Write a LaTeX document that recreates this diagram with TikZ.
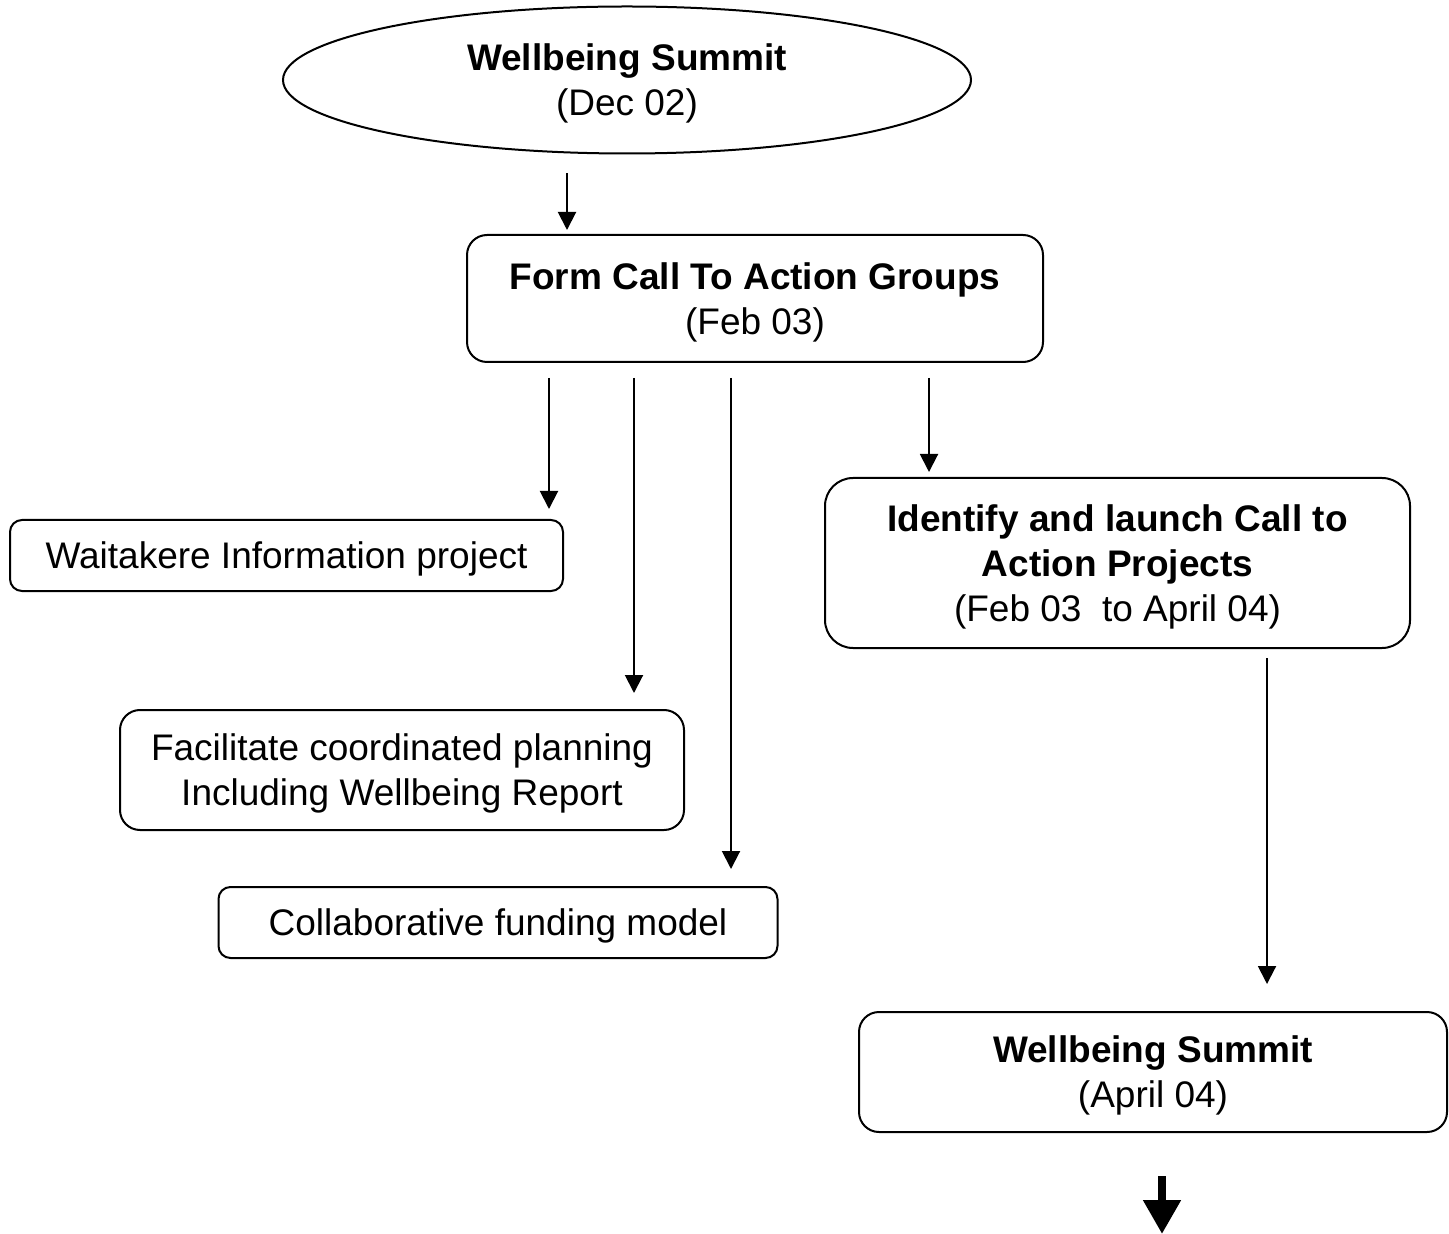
\documentclass[tikz,border=0pt]{standalone}
\usepackage{fontspec}
\setmainfont{Liberation Sans}
\usetikzlibrary{shapes,arrows.meta}
\tikzstyle{block} = [rectangle, draw, line width=1pt, align=center,
    inner sep=0pt, text depth=0pt, rounded corners=10pt]
\tikzstyle{summitshape} = [ellipse, draw, line width=1pt, align=center, inner sep=0pt, text depth=0pt]
\tikzstyle{line} = [draw, line width=1pt, -{Triangle[length=9pt,width=9pt]}]
\tikzstyle{bigline} = [draw, line width=4pt, -{Triangle[length=17pt,width=18pt]}]

\begin{document}
\begin{tikzpicture}[node distance = 2cm, font=\fontsize{18.5pt}{22.5pt}\selectfont]
    \useasboundingbox (0,0) rectangle (724.5pt,-617pt);
    % Place nodes
    \node [summitshape, minimum width=344pt, minimum height=73.5pt] (summit) at (313.5pt,-40pt) {\textbf{Wellbeing Summit}\\(Dec 02)};
    \node [block, below of=summit, node distance=109.25pt, xshift=64pt, minimum width=288pt, minimum height=63.5pt] (groups) {\textbf{Form Call To Action Groups}\\(Feb 03)};
    \node [block, below of=groups, node distance=128.5pt, xshift=-234.25pt, minimum width=276.5pt, minimum height=35.5pt, rounded corners=6pt] (info) {Waitakere Information project};
    \node [block, below of=info, node distance=107.25pt, xshift=57.75pt, minimum width=282pt, minimum height=60pt] (plan) {Facilitate coordinated planning\\Including Wellbeing Report};
    \node [block, below of=plan, node distance=76.25pt, xshift=48pt, minimum width=279.5pt, minimum height=35.5pt, rounded corners=6pt] (funding) {Collaborative funding model};
    \node [block, below of=groups, node distance=132.25pt, xshift=181.25pt, minimum width=292.5pt, minimum height=85pt, rounded corners=14pt] (projects) {\textbf{Identify and launch Call to}\\\textbf{Action Projects}\\(Feb 03~ to April 04)};
    \node [block, below of=projects, node distance=254.5pt, xshift=17.75pt, minimum width=294pt, minimum height=60pt] (summit2) {\textbf{Wellbeing Summit}\\(April 04)};
    \coordinate [below of=summit2, node distance=81pt, xshift=4.5pt] (next);
    % Draw edges
    \path [line, shorten <=9.5pt, shorten >=2pt] ([xshift=-94pt]groups.north |- summit.south) -- ([xshift=-94pt]groups.north);
    \path [line, shorten <=7.5pt, shorten >=5pt] ([xshift=-103pt]groups.south) -- ([xshift=-103pt]groups.south |- info.north);
    \path [line, shorten <=7.5pt, shorten >=8pt] ([xshift=-60.5pt]groups.south) -- ([xshift=-60.5pt]groups.south |- plan.north);
    \path [line, shorten <=7.5pt, shorten >=8.5pt] ([xshift=-12pt]groups.south) -- ([xshift=-12pt]groups.south |- funding.north);
    \path [line, shorten <=7.5pt, shorten >=2.5pt] ([xshift=87pt]groups.south) -- ([xshift=87pt]groups.south |- projects.north);
    \path [line, shorten <=4.5pt, shorten >=13.5pt] ([xshift=74.75pt]projects.south) -- ([xshift=74.75pt]projects.south |- summit2.north);
    \path [bigline, shorten <=21.5pt] ([xshift=4.5pt]summit2.south) -- (next);

\end{tikzpicture}
\end{document}
